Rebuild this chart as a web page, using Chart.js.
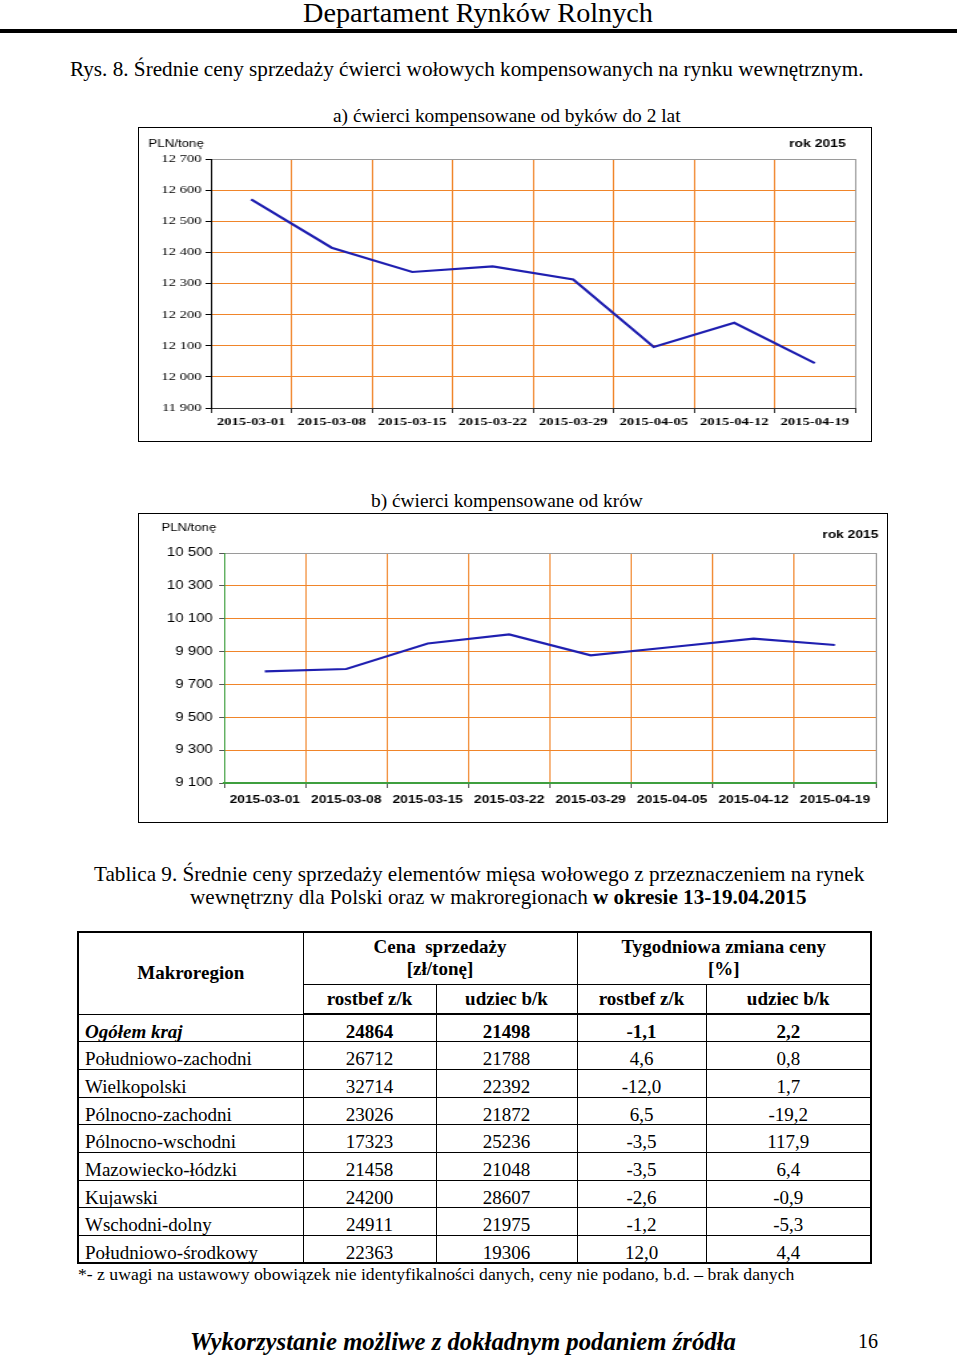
<!DOCTYPE html>
<html>
<head>
<meta charset="utf-8">
<script src="https://cdn.jsdelivr.net/npm/chart.js@4.4.1/dist/chart.umd.min.js"></script>
<style>
body{margin:0;width:960px;height:1357px;position:relative;background:#fff;color:#000;overflow:hidden;font-family:"Liberation Serif","Times New Roman",serif}
.t{position:absolute;white-space:nowrap;line-height:1;font-size:20px}
.rule{position:absolute;left:0;top:29px;width:957px;height:4px;background:#000}
.frame{position:absolute;border:1px solid #000;box-sizing:border-box;background:#fff}
.frame canvas{position:absolute;left:0;top:0}
#tab{position:absolute;left:77px;top:931px;border-collapse:collapse;table-layout:fixed;font-size:19px;border:2px solid #000}
#tab th,#tab td{border:1px solid #000;padding:0;text-align:center;line-height:22px}
#tab th{font-weight:bold}
#tab td{vertical-align:top;padding-top:7px;line-height:19px}
#tab thead tr:last-child th{border-bottom:2px solid #000}
#tab td.name{text-align:left;padding-left:6px}
#tab tbody tr{height:27.7px}
#tab tr.total td{font-weight:bold}
#tab tr.total td.name{font-style:italic}
</style>
</head>
<body>

<div class="t fit" style="left:303px;font-size:28px" data-w="350" data-cy="13.5">Departament Rynków Rolnych</div>
<div class="rule"></div>
<div class="t fit" style="left:70px" data-w="794" data-cy="69.5">Rys. 8. Średnie ceny sprzedaży ćwierci wołowych kompensowanych na rynku wewnętrznym.</div>

<div class="t fit" style="left:333px;font-size:18px" data-w="348" data-cy="116">a) ćwierci kompensowane od byków do 2 lat</div>
<div class="frame" style="left:138px;top:127px;width:734px;height:315px">
  <canvas id="chartA" width="550" height="313" style="width:732px;height:313px"></canvas>
</div>

<div class="t fit" style="left:371px;font-size:18px" data-w="272" data-cy="501">b) ćwierci kompensowane od krów</div>
<div class="frame" style="left:138px;top:513px;width:750px;height:310px">
  <canvas id="chartB" width="598" height="308" style="width:748px;height:308px"></canvas>
</div>

<div class="t fit" style="left:94px" data-w="771" data-cy="875">Tablica 9. Średnie ceny sprzedaży elementów mięsa wołowego z przeznaczeniem na rynek</div>
<div class="t fit" style="left:190px" data-w="617" data-cy="898">wewnętrzny dla Polski oraz w makroregionach <b>w okresie 13-19.04.2015</b></div>

<table id="tab">
  <colgroup><col style="width:225px"><col style="width:133px"><col style="width:141px"><col style="width:129px"><col style="width:165px"></colgroup>
  <thead>
    <tr style="height:52px"><th rowspan="2">Makroregion</th><th colspan="2">Cena&nbsp; sprzedaży<br>[zł/tonę]</th><th colspan="2">Tygodniowa zmiana ceny<br>[%]</th></tr>
    <tr style="height:30px"><th>rostbef z/k</th><th>udziec b/k</th><th>rostbef z/k</th><th>udziec b/k</th></tr>
  </thead>
  <tbody id="tbody"></tbody>
</table>

<div class="t fit" style="left:78px;font-size:17px" data-w="717" data-cy="1275">*- z uwagi na ustawowy obowiązek nie identyfikalności danych, ceny nie podano, b.d. – brak danych</div>

<div class="t fit" style="left:190px;font-size:26px;font-weight:bold;font-style:italic" data-w="546" data-cy="1343">Wykorzystanie możliwe z dokładnym podaniem źródła</div>
<div class="t fit" style="left:858px" data-w="20" data-cy="1341">16</div>

<script>
// dane do wykresow
var dates = ['2015-03-01','2015-03-08','2015-03-15','2015-03-22','2015-03-29','2015-04-05','2015-04-12','2015-04-19'];
var bykiPrices = [12570,12415,12337,12355,12313,12096,12174,12044];
var krowyPrices = [9780,9794,9949,10004,9877,9928,9979,9940];
var bykiMin = 11900, bykiMax = 12700, bykiStep = 100;
var krowyMin = 9100, krowyMax = 10500, krowyStep = 200;

// dane do tabeli
var regions = ['Ogółem kraj','Południowo-zachodni','Wielkopolski','Pólnocno-zachodni','Pólnocno-wschodni','Mazowiecko-łódzki','Kujawski','Wschodni-dolny','Południowo-środkowy'];
var rostbefPrice = ['24864','26712','32714','23026','17323','21458','24200','24911','22363'];
var udziecPrice = ['21498','21788','22392','21872','25236','21048','28607','21975','19306'];
var rostbefChange = ['-1,1','4,6','-12,0','6,5','-3,5','-3,5','-2,6','-1,2','12,0'];
var udziecChange = ['2,2','0,8','1,7','-19,2','117,9','6,4','-0,9','-5,3','4,4'];

var orange = '#f0852a';
var frameGray = '#9a9a9a';

var tbody = document.getElementById('tbody');
for (var i = 0; i < regions.length; i++) {
	var tr = document.createElement('tr');
	if (i == 0) tr.className = 'total';
	var cells = [regions[i], rostbefPrice[i], udziecPrice[i], rostbefChange[i], udziecChange[i]];
	for (var j = 0; j < cells.length; j++) {
		var td = document.createElement('td');
		if (j == 0) td.className = 'name';
		td.textContent = cells[j];
		tr.appendChild(td);
	}
	tbody.appendChild(tr);
}

// dopasowanie tekstu do szerokosci
document.querySelectorAll('.fit').forEach(function(el){
	var fs = parseFloat(getComputedStyle(el).fontSize);
	var m = el.getBoundingClientRect().width;
	fs = fs * (+el.dataset.w) / m;
	el.style.fontSize = fs + 'px';
	el.style.top = (+el.dataset.cy - 0.51 * fs) + 'px';
});

function spaced(v){
	return String(v).replace(/\B(?=(\d{3})+(?!\d))/g, ' ');
}

var cornerText = {
	id: 'cornerText',
	afterDraw: function(chart, args, o){
		var c = chart.ctx;
		c.save();
		c.fillStyle = '#000';
		c.textBaseline = 'middle';
		c.textAlign = 'left';
		c.font = o.unitFont;
		c.fillText('PLN/tonę', o.ux, o.uy);
		c.textAlign = 'right';
		c.font = o.yearFont;
		c.fillText('rok 2015', o.yx, o.yy);
		c.restore();
	}
};

function xGrid(ctx){
	if (ctx.index === 0) return 'rgba(0,0,0,0)';
	if (ctx.index === undefined) return frameGray;
	return orange;
}
function yGrid(ctx){
	if (ctx.index === 0) return 'rgba(0,0,0,0)';
	if (ctx.index === ctx.scale.ticks.length - 1) return frameGray;
	return orange;
}

new Chart(document.getElementById('chartA'), {
	type: 'line',
	data: {
		labels: dates,
		datasets: [{
			data: bykiPrices,
			borderColor: '#1f1fb0',
			borderWidth: 2.2,
			pointRadius: 0,
			tension: 0,
			fill: false
		}]
	},
	options: {
		responsive: false,
		animation: false,
		layout: {padding: {top: 31, right: 12, left: 0, bottom: 0}},
		plugins: {
			legend: {display: false},
			tooltip: {enabled: false},
			cornerText: {unitFont: '10px "Liberation Sans"', ux: 7, uy: 16, yearFont: 'bold 10.5px "Liberation Sans"', yx: 531, yy: 16}
		},
		scales: {
			x: {
				offset: true,
				grid: {offset: true, color: xGrid, tickColor: '#333', tickLength: 5},
				border: {color: '#333'},
				ticks: {font: {family: 'Liberation Serif', size: 11, weight: 'bold'}, color: '#000', padding: 3, maxRotation: 0, autoSkip: false},
				afterFit: function(s){ s.height = 33; }
			},
			y: {
				min: bykiMin,
				max: bykiMax,
				grid: {color: yGrid, tickColor: '#000', tickLength: 4},
				border: {color: '#000'},
				ticks: {stepSize: bykiStep, font: {family: 'Liberation Serif', size: 11}, color: '#000', padding: 3, callback: spaced},
				afterFit: function(s){ s.width = 54; }
			}
		}
	},
	plugins: [cornerText]
});

new Chart(document.getElementById('chartB'), {
	type: 'line',
	data: {
		labels: dates,
		datasets: [{
			data: krowyPrices,
			borderColor: '#1f1fb0',
			borderWidth: 2.2,
			pointRadius: 0,
			tension: 0,
			fill: false
		}]
	},
	options: {
		responsive: false,
		animation: false,
		layout: {padding: {top: 39, right: 9, left: 0, bottom: 0}},
		plugins: {
			legend: {display: false},
			tooltip: {enabled: false},
			cornerText: {unitFont: '10.5px "Liberation Sans"', ux: 18, uy: 14, yearFont: 'bold 11px "Liberation Sans"', yx: 591, yy: 21}
		},
		scales: {
			x: {
				offset: true,
				grid: {offset: true, color: xGrid, tickColor: '#555', tickLength: 5},
				border: {color: '#3f9f3f', width: 2},
				ticks: {font: {family: 'Liberation Sans', size: 11, weight: 'bold'}, color: '#000', padding: 5, maxRotation: 0, autoSkip: false},
				afterFit: function(s){ s.height = 39; }
			},
			y: {
				min: krowyMin,
				max: krowyMax,
				grid: {color: yGrid, tickColor: '#555', tickLength: 4},
				border: {color: '#3f9f3f'},
				ticks: {stepSize: krowyStep, font: {family: 'Liberation Sans', size: 12}, color: '#000', padding: 5, callback: spaced},
				afterFit: function(s){ s.width = 68; }
			}
		}
	},
	plugins: [cornerText]
});
</script>
</body>
</html>
